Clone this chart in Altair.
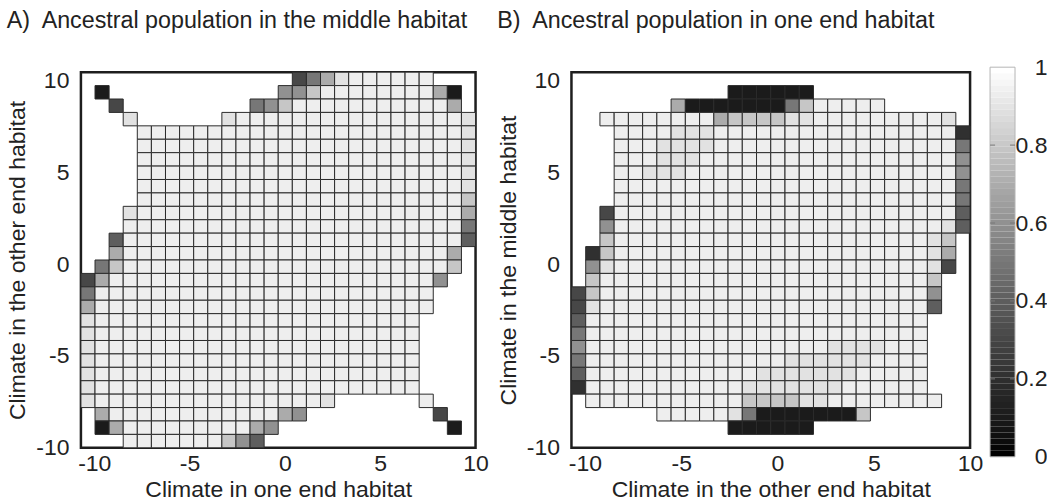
import altair as alt
import pandas as pd

# ---- data: 28 x 28 grid of proportions, row 0 = top (highest climate value)
# '.' = no cell, digit d = d/10, 'a' = 0.94
panel_a_rows = [
    "..............." + "3579aaaaaa" + "...",
    "." + "1" + "............" + "668" + "aaaaaaaa" + "71" + ".",
    "..3" + "........." + "568" + "aaaaaaaaaaa" + "7" + ".",
    "...9" + "......" + "9" + "a" * 16 + "9",
    "...." + "a" * 23 + "9",
    "...." + "a" * 23 + "9",
    "...." + "a" * 23 + "9",
    "...." + "a" * 23 + "9",
    "...." + "a" * 23 + "9",
    "...." + "a" * 23 + "8",
    "..." + "9" + "a" * 23 + "7",
    "..." + "a" * 24 + "5",
    ".." + "4" + "a" * 24 + "4",
    ".." + "7" + "a" * 23 + "7" + ".",
    "." + "58" + "a" * 23 + "8" + ".",
    "3" + "7" + "a" * 23 + "6" + "..",
    "5" + "a" * 24 + "...",
    "7" + "a" * 24 + "...",
    "9" + "a" * 23 + "....",
    "9" + "a" * 23 + "....",
    "9" + "a" * 23 + "....",
    "9" + "a" * 23 + "....",
    "9" + "a" * 23 + "....",
    "9" + "a" * 23 + "....",
    "9" + "a" * 16 + "9" + "......" + "a" + "...",
    "." + "7" + "a" * 12 + "76" + "........." + "3" + "..",
    "." + "1" + "7" + "a" * 9 + "76" + "............" + "1" + ".",
    "..." + "a" * 7 + "864" + "." * 15,
]

panel_b_rows = [
    "." * 28,
    "." * 11 + "1" * 6 + "." * 11,
    "." * 7 + "7" + "1" * 7 + "5" + "8" + "a" * 5 + "." * 6,
    ".." + "a" * 8 + "7888899" + "a" * 9 + "9" + ".",
    "..." + "a" * 4 + "999" + "a" * 17 + "2",
    "..." + "a" * 3 + "9999" + "a" * 17 + "5",
    "..." + "a" * 3 + "999" + "a" * 18 + "6",
    "..." + "a" * 2 + "999" + "a" * 19 + "6",
    "..." + "a" * 24 + "5",
    "..." + "a" * 24 + "5",
    ".." + "3" + "a" * 24 + "4",
    ".." + "6" + "a" * 23 + "9" + "4",
    ".." + "8" + "a" * 22 + "9" + "8" + ".",
    "." + "2" + "8" + "a" * 22 + "9" + "7" + ".",
    "." + "6" + "9" + "a" * 22 + "9" + "3" + ".",
    "." + "8" + "a" * 23 + "8" + "..",
    "3" + "8" + "a" * 23 + "6" + "..",
    "3" + "9" + "a" * 23 + "4" + "..",
    "4" + "a" * 24 + "...",
    "5" + "a" * 24 + "...",
    "6" + "a" * 17 + "9999" + "aaa" + "...",
    "5" + "a" * 14 + "999999" + "aaaa" + "...",
    "4" + "a" * 12 + "9999999" + "aaaaa" + "...",
    "2" + "a" * 11 + "9" * 7 + "a" * 6 + "...",
    "." + "a" * 11 + "888899" + "a" * 8 + "..",
    "." * 6 + "a" * 5 + "9" + "5" + "1" * 7 + "8" + "." * 7,
    "." * 11 + "1" * 6 + "." * 11,
    "." * 28,
]

code_values = {str(d): d / 10 for d in range(10)}
code_values["a"] = 0.94

# climate grid (cell edges) shared by both panels
x_lim = [-10.7, 10.0]
y_lim = [-10.0, 10.45]
n_cells = 28
x_ticks = [-10, -5, 0, 5, 10]
y_ticks = [-10, -5, 0, 5, 10]
cbar_ticks = [0, 0.2, 0.4, 0.6, 0.8, 1]
cbar_inner_ticks = [0.2, 0.4, 0.6, 0.8]
n_colors = 64

titles = ["A)\u2002Ancestral population in the middle habitat",
          "B)\u2002Ancestral population in one end habitat"]
x_titles = ["Climate in one end habitat", "Climate in the other end habitat"]
y_titles = ["Climate in the other end habitat", "Climate in the middle habitat"]

FONT = "Liberation Sans"
TXT = "#222222"


def grid_frame(rows):
    dx = (x_lim[1] - x_lim[0]) / n_cells
    dy = (y_lim[1] - y_lim[0]) / n_cells
    recs = []
    for r, row in enumerate(rows):
        for c, ch in enumerate(row):
            if ch == ".":
                continue
            recs.append({
                "x0": x_lim[0] + c * dx, "x1": x_lim[0] + (c + 1) * dx,
                "y1": y_lim[1] - r * dy, "y0": y_lim[1] - (r + 1) * dy,
                "v": code_values[ch],
            })
    return pd.DataFrame(recs)


color_scale = alt.Scale(domain=[0, 1], range=["#000000", "#ffffff"])


def panel(rows, title, xt, yt, width):
    df = grid_frame(rows)
    return alt.Chart(df).mark_rect(stroke="#2b2b2b", strokeWidth=1).encode(
        x=alt.X("x0:Q", scale=alt.Scale(domain=x_lim, nice=False, zero=False),
                axis=alt.Axis(values=x_ticks, labelExpr="datum.value + ''", title=xt,
                              ticks=False, domain=False, grid=False, labelPadding=5,
                              titlePadding=3, labelFlush=False)),
        x2="x1:Q",
        y=alt.Y("y0:Q", scale=alt.Scale(domain=y_lim, nice=False, zero=False),
                axis=alt.Axis(values=y_ticks, labelExpr="datum.value + ''", title=yt,
                              ticks=False, domain=False, grid=False, labelPadding=12,
                              titlePadding=6, labelFlush=False)),
        y2="y1:Q",
        color=alt.Color("v:Q", scale=color_scale, legend=None),
    ).properties(
        width=width, height=376,
        title=alt.TitleParams(text=title, anchor="start", fontSize=23.3, font=FONT,
                              fontWeight="normal", color=TXT, offset=36),
        view=alt.ViewBackground(stroke="#1e1e1e", strokeWidth=2.5),
    )


chart_a = panel(panel_a_rows, titles[0], x_titles[0], y_titles[0], 395)
chart_b = panel(panel_b_rows, titles[1], x_titles[1], y_titles[1], 399)

levels = pd.DataFrame({
    "lo": [k / n_colors for k in range(n_colors)],
    "hi": [(k + 1) / n_colors for k in range(n_colors)],
    "v": [k / (n_colors - 1) for k in range(n_colors)],
})
cb_y = alt.Scale(domain=[0, 1], range=[385, -5], nice=False, zero=False)
cbar_rect = alt.Chart(levels).mark_rect().encode(
    x=alt.value(0), x2=alt.value(25),
    y=alt.Y("lo:Q", scale=cb_y,
            axis=alt.Axis(orient="right", values=cbar_ticks, labelExpr="datum.value + ''",
                          title=None, ticks=False, domain=False, grid=False,
                          labelAlign="right", labelPadding=32, labelFlush=False)),
    y2="hi:Q",
    color=alt.Color("v:Q", scale=color_scale, legend=None),
)
cbar_frame = alt.Chart(pd.DataFrame({"lo": [0], "hi": [1]})).mark_rect(
    fill=None, stroke="#b5b5b5", strokeWidth=1).encode(
    x=alt.value(0), x2=alt.value(25),
    y=alt.Y("lo:Q", scale=cb_y), y2="hi:Q")
tick_df = pd.DataFrame({"t": cbar_inner_ticks})
cbar_tl = alt.Chart(tick_df).mark_rule(color="#777777", strokeWidth=1).encode(
    y=alt.Y("t:Q", scale=cb_y), x=alt.value(0), x2=alt.value(5))
cbar_tr = alt.Chart(tick_df).mark_rule(color="#777777", strokeWidth=1).encode(
    y=alt.Y("t:Q", scale=cb_y), x=alt.value(20), x2=alt.value(25))
cbar = alt.layer(cbar_rect, cbar_frame, cbar_tl, cbar_tr).properties(
    width=25, height=376, view=alt.ViewBackground(stroke=None))

chart = alt.hconcat(
    alt.hconcat(chart_a, chart_b, spacing=5),
    cbar, spacing=4,
).properties(
    padding={"left": 5, "top": 7, "right": 0, "bottom": 0},
).configure_axis(
    labelFont=FONT, labelFontSize=23, labelColor=TXT,
    titleFont=FONT, titleFontSize=23, titleFontWeight="normal", titleColor=TXT,
).configure_view(stroke=None)

chart.save("out.html", embed_options={"renderer": "svg", "actions": False})
